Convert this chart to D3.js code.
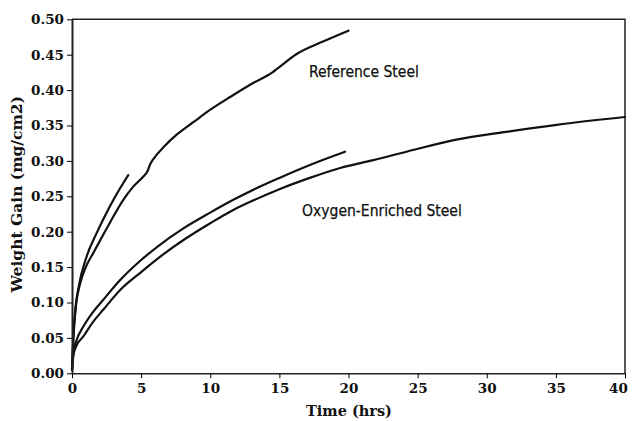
<!DOCTYPE html>
<html>
<head>
<meta charset="utf-8">
<script src="https://cdn.jsdelivr.net/npm/d3@7"></script>
<style>
  body { margin: 0; background: #fff; }
  .tick text { font-family: "DejaVu Serif", serif; font-weight: bold; font-size: 13.5px; fill: #111; }
  .axis-title { font-family: "DejaVu Serif", serif; font-weight: bold; font-size: 14.5px; fill: #111; }
  .y-title { font-size: 15.5px; }
  .note { font-family: "DejaVu Sans Condensed", "DejaVu Sans", sans-serif; font-size: 15.5px; fill: #111; stroke: #111; stroke-width: 0.25; }
  .curve { fill: none; stroke: #111; stroke-width: 2.2; stroke-linejoin: round; stroke-linecap: round; }
</style>
</head>
<body>
<div id="chart"></div>
<script>

// data: [time (hrs), weight gain (mg/cm2)]
const refLong = [[0,0.005],[0.1,0.05],[0.3,0.098],[0.58,0.126],[1.0,0.15],[1.54,0.17],[2.1,0.19],[2.75,0.213],[3.71,0.245],[4.4,0.263],[5.16,0.278],[5.45,0.285],[5.65,0.295],[5.9,0.303],[6.7,0.321],[7.57,0.337],[8.8,0.355],[9.98,0.372],[11.5,0.391],[13.1,0.41],[14.5,0.425],[14.9,0.431],[16.25,0.451],[18.2,0.469],[20,0.484]]
const refShort = [[0,0.005],[0.1,0.052],[0.25,0.092],[0.46,0.12],[1.06,0.165],[1.78,0.198],[2.4,0.223],[3.0,0.245],[3.5,0.262],[4.07,0.28]]
const oxyShort = [[0,0.005],[0.1,0.03],[0.3,0.045],[0.82,0.066],[1.5,0.086],[2.27,0.104],[3.5,0.132],[5,0.16],[6.12,0.178],[8,0.204],[10,0.227],[11.67,0.245],[13.3,0.261],[15,0.276],[17.3,0.295],[19.75,0.313]]
const oxyLong = [[0,0.005],[0.1,0.025],[0.3,0.038],[0.82,0.052],[1.5,0.072],[2.27,0.09],[3.5,0.118],[5,0.143],[6.6,0.168],[8.2,0.19],[10,0.212],[11.5,0.229],[13.1,0.244],[15,0.26],[17.2,0.276],[19.4,0.29],[21.8,0.301],[24.2,0.313],[27.8,0.33],[31.4,0.341],[35.06,0.351],[40,0.362]]

const xTicks = [0, 5, 10, 15, 20, 25, 30, 35, 40]
const yTicks = [0, 0.05, 0.10, 0.15, 0.20, 0.25, 0.30, 0.35, 0.40, 0.45, 0.50]

const labels = [
  {text: "Reference Steel", t: 17.14, w: 0.418},
  {text: "Oxygen-Enriched Steel", t: 16.64, w: 0.2215}
]

let dimensions = {
  width: 633,
  height: 421,
  margin: {top: 19.3, right: 8, bottom: 47.7, left: 72},
}
dimensions.boundedWidth = dimensions.width - dimensions.margin.left - dimensions.margin.right
dimensions.boundedHeight = dimensions.height - dimensions.margin.top - dimensions.margin.bottom

const wrapper = d3.select("#chart")
  .append("svg")
  .attr("width", dimensions.width)
  .attr("height", dimensions.height)

const bounds = wrapper.append("g")
  .attr("transform", `translate(${dimensions.margin.left},${dimensions.margin.top})`)

const xScale = d3.scaleLinear()
  .domain([0, 40])
  .range([0, dimensions.boundedWidth])

const yScale = d3.scaleLinear()
  .domain([0, 0.5])
  .range([dimensions.boundedHeight, 0])

// frame (top + right)
bounds.append("path")
  .attr("d", `M0,0H${dimensions.boundedWidth}V${dimensions.boundedHeight}`)
  .attr("fill", "none")
  .attr("stroke", "#222")
  .attr("stroke-width", 1.5)

// curves
const lineGenerator = d3.line()
  .x(d => xScale(d[0]))
  .y(d => yScale(d[1]))
  .curve(d3.curveMonotoneX)

bounds.selectAll(".curve")
  .data([refLong, refShort, oxyShort, oxyLong])
  .enter()
  .append("path")
  .attr("class", "curve")
  .attr("d", lineGenerator)

// axes
const xAxisGenerator = d3.axisBottom(xScale)
  .tickValues(xTicks)
  .tickSize(5)
  .tickSizeOuter(0)
  .tickPadding(5)
  .tickFormat(d3.format("d"))

const xAxis = bounds.append("g")
  .attr("transform", `translate(0,${dimensions.boundedHeight})`)
  .call(xAxisGenerator)
xAxis.select(".domain").attr("stroke-width", 1.6).attr("stroke", "#222")
// last label sits a little left so it stays inside the page
xAxis.selectAll(".tick text").filter(d => d === 40).attr("dx", -7)

const yAxisGenerator = d3.axisLeft(yScale)
  .tickValues(yTicks)
  .tickSize(5)
  .tickSizeOuter(0)
  .tickPadding(3)
  .tickFormat(d3.format(".2f"))

const yAxis = bounds.append("g")
  .call(yAxisGenerator)
yAxis.select(".domain").attr("stroke-width", 2).attr("stroke", "#222")

bounds.append("text")
  .attr("class", "axis-title")
  .attr("x", 277)
  .attr("y", dimensions.boundedHeight + 43)
  .attr("text-anchor", "middle")
  .text("Time (hrs)")

bounds.append("text")
  .attr("class", "axis-title y-title")
  .attr("transform", `translate(${-50},${dimensions.boundedHeight / 2 - 2}) rotate(-90)`)
  .attr("text-anchor", "middle")
  .text("Weight Gain (mg/cm2)")

// curve labels
bounds.selectAll(".note")
  .data(labels)
  .enter()
  .append("text")
  .attr("class", "note")
  .attr("x", d => xScale(d.t))
  .attr("y", d => yScale(d.w))
  .text(d => d.text)

</script>
</body>
</html>
